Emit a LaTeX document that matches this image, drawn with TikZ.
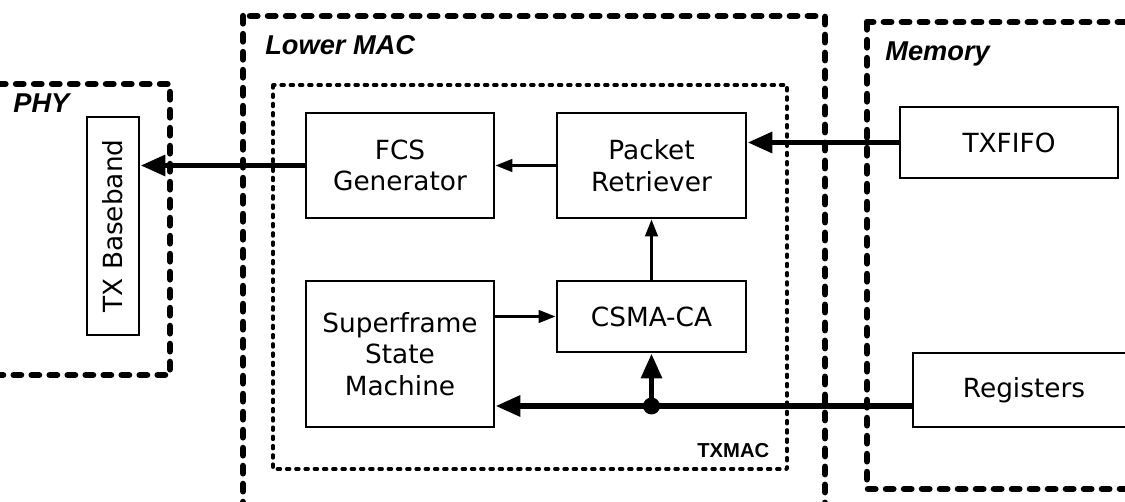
\documentclass[tikz,border=0pt]{standalone}
\usepackage{fontspec}
\setmainfont{DejaVu Sans}
\newfontfamily\arialfont{Liberation Sans}
\usetikzlibrary{arrows.meta}

\tikzset{
  block/.style={draw, line width=1.6pt, inner sep=0pt, align=center,
    font=\fontsize{15pt}{18pt}\selectfont},
  region/.style={line width=3.6pt, line cap=round, line join=round,
    dash pattern=on 0.15cm off 0.21cm},
  subregion/.style={line width=2pt, line cap=round, line join=round,
    dash pattern=on 0.06cm off 0.125cm},
  regionlabel/.style={inner sep=0pt, anchor=base west,
    font=\arialfont\bfseries\itshape\fontsize{15.5pt}{18pt}\selectfont},
  sig/.style={line width=1.6pt, -{Triangle[length=0.34cm,width=0.25cm]}},
  bus/.style={line width=3.4pt, -{Triangle[length=0.5cm,width=0.4cm]}},
}

\begin{document}
\begin{tikzpicture}[x=0.02cm,y=-0.02cm]
\useasboundingbox (0,0) rectangle (1125,502);
\clip (0,0) rectangle (1125,502);

% regions
\draw[region] (-20,84) -- (170,84) -- (170,375) -- (-20,375);
\draw[region] (243,16) rectangle (825,530);
\draw[region] (867,22) rectangle (1150,489);
\draw[subregion] (273,85) rectangle (787,469);
\node[regionlabel] (phylabel) at (13,113) {PHY};
\node[regionlabel] (maclabel) at (265,55) {Lower MAC};
\node[regionlabel] (memlabel) at (885,61) {Memory};
\node[inner sep=0pt, anchor=base west,
  font=\arialfont\bfseries\fontsize{11.5pt}{14pt}\selectfont]
  (txmaclabel) at (697,458) {TXMAC};

% blocks
\node[block, rotate=90, minimum width=4.36cm, minimum height=1.04cm]
  (txbb) at (113,226) {TX Baseband};
\node[block, minimum width=3.76cm, minimum height=2.1cm]
  (fcs) at (400,165.5) {FCS\\Generator};
\node[block, minimum width=3.78cm, minimum height=2.1cm]
  (pr) at (651.5,165.5) {Packet\\Retriever};
\node[block, minimum width=3.76cm, minimum height=2.92cm]
  (sf) at (400,354) {Superframe\\State\\Machine};
\node[block, minimum width=3.78cm, minimum height=1.42cm]
  (csma) at (651.5,316.5) {CSMA-CA};
\node[block, minimum width=4.36cm, minimum height=1.42cm]
  (txfifo) at (1009,142.5) {TXFIFO};
\node[block, minimum width=4.44cm, minimum height=1.48cm]
  (reg) at (1024,390) {Registers};

% connections
\draw[bus] (fcs.west) -- (fcs.west -| txbb.south);
\draw[bus] (txfifo.west) -- (txfifo.west -| pr.east);
\draw[sig] (pr.west) -- (fcs.east);
\draw[sig] (sf.east |- csma.west) -- (csma.west);
\draw[sig] (csma.north) -- (pr.south);
\coordinate (tap) at (651.5,406);
\draw[line width=3.4pt] (reg.west |- tap) -- (tap);
\draw[bus] (tap) -- (tap -| sf.east);
\draw[bus] (tap) -- (csma.south);
\fill (tap) circle[radius=0.17cm];
\end{tikzpicture}
\end{document}
